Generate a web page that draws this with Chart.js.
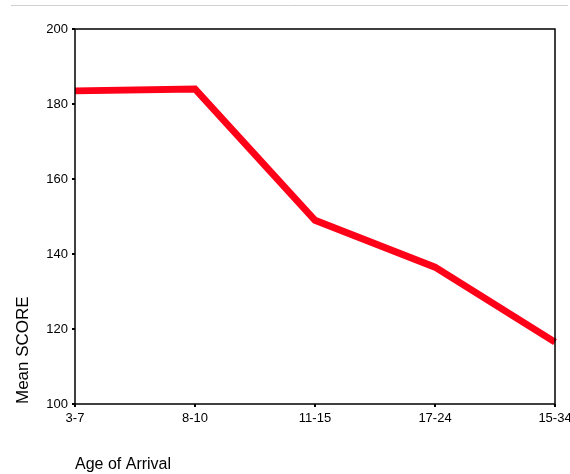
<!DOCTYPE html>
<html>
<head>
<meta charset="utf-8">
<script src="https://cdn.jsdelivr.net/npm/chart.js@4"></script>
<style>
  html, body { margin: 0; padding: 0; background: #fff; }
  #wrap { width: 570px; height: 474px; position: relative; }
</style>
</head>
<body>
<div id="wrap"><canvas id="scoreChart" width="570" height="474"></canvas></div>
<script>
// age groups on x, mean score on y
const ageGroups = ["3-7", "8-10", "11-15", "17-24", "15-34"]
const meanScores = [183.5, 184, 149, 136.5, 116.5]
const yTicks = [100, 120, 140, 160, 180, 200]

// draws the thin grey rule at the top and the black frame around the plot
const framePlugin = {
  id: "frame",
  beforeDraw(chart) {
    const ctx = chart.ctx
    ctx.save()
    ctx.strokeStyle = "#d0d0d0"
    ctx.lineWidth = 1
    ctx.beginPath()
    ctx.moveTo(11, 5.5)
    ctx.lineTo(568, 5.5)
    ctx.stroke()
    ctx.restore()
  },
  afterDatasetsDraw(chart) {
    const a = chart.chartArea
    const ctx = chart.ctx
    ctx.save()
    ctx.strokeStyle = "#000"
    ctx.lineWidth = 1.5
    ctx.strokeRect(a.left, a.top, a.right - a.left, a.bottom - a.top)
    ctx.restore()
  }
}

new Chart("scoreChart", {
  type: "line",
  data: {
    labels: ageGroups,
    datasets: [{
      data: meanScores,
      borderColor: "rgb(255, 0, 25)",
      borderWidth: 7,
      pointRadius: 0,
      tension: 0,
      clip: false
    }]
  },
  options: {
    responsive: false,
    animation: false,
    layout: { padding: { top: 29, right: 15, left: 13, bottom: 0 } },
    plugins: { legend: { display: false }, tooltip: { enabled: false } },
    scales: {
      x: {
        offset: false,
        border: { display: false },
        grid: { drawOnChartArea: false, drawTicks: true, tickLength: 3, color: "#000", lineWidth: 2 },
        ticks: { color: "#000", font: { family: "Liberation Sans, Arial", size: 13 }, padding: 4, maxRotation: 0, autoSkip: false },
        title: { display: true, text: "Age of Arrival", align: "start", color: "#000",
                 font: { family: "Liberation Sans, Arial", size: 16 }, padding: { top: 22, bottom: 0 } },
        afterFit(scale) {
          scale.height = 70
          // let the last label run off to the canvas edge like the original
          scale.paddingRight = 0
          scale.paddingLeft = 0
        }
      },
      y: {
        min: 100,
        max: 200,
        border: { display: false },
        grid: { drawOnChartArea: false, drawTicks: true, tickLength: 3, color: "#000", lineWidth: 2 },
        afterBuildTicks(scale) { scale.ticks = yTicks.map(v => ({ value: v })) },
        ticks: { color: "#000", font: { family: "Liberation Sans, Arial", size: 13 }, padding: 4 },
        title: { display: true, text: "Mean SCORE", align: "start", color: "#000",
                 font: { family: "Liberation Sans, Arial", size: 17 }, padding: 0 },
        afterFit(scale) { scale.width = 62 }
      }
    }
  },
  plugins: [framePlugin]
})
</script>
</body>
</html>
